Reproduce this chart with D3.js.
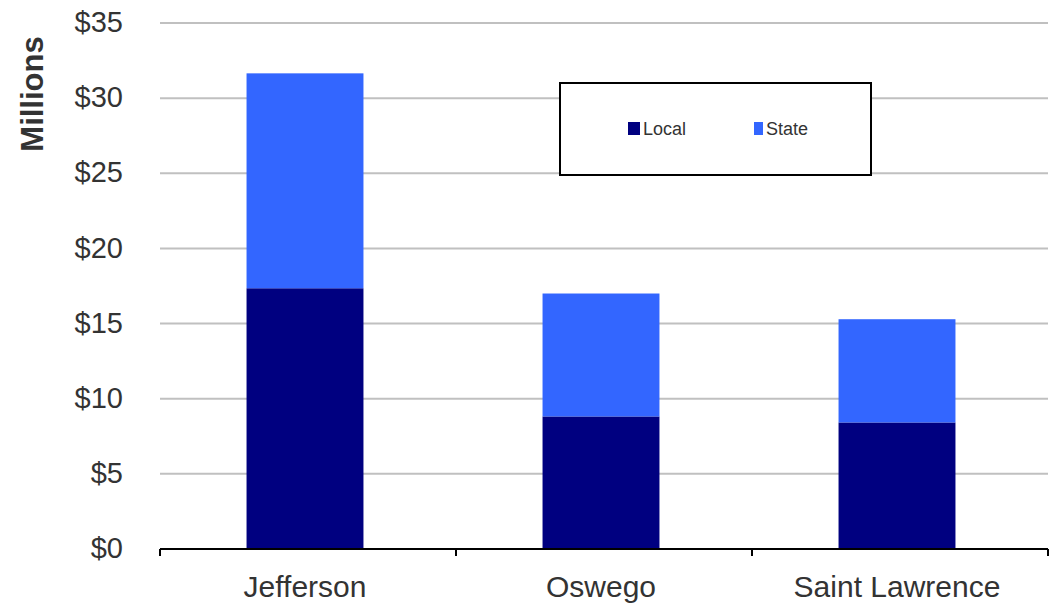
<!DOCTYPE html>
<html><head><meta charset="utf-8">
<script src="https://cdn.jsdelivr.net/npm/d3@7"></script>
<style>body{margin:0;background:#fff}svg{display:block}text{font-family:"Liberation Sans",Arial,sans-serif}</style>
</head><body><svg id="c" width="1049" height="605"></svg>
<script>
const categories = ["Jefferson", "Oswego", "Saint Lawrence"];
const localValues = [17.35, 8.82, 8.42];
const stateValues = [14.3, 8.18, 6.87];
const seriesNames = ["Local", "State"];
const seriesColors = ["#000080", "#3366FF"];
const yTicks = [0, 5, 10, 15, 20, 25, 30, 35];

(function () {
const svg = d3.select("#c");
const pL = 160, pR = 1048, pT = 23, pB = 549;
const x = d3.scaleBand().domain(categories).range([pL - 3, pR - 3]).paddingInner(0.605).paddingOuter(0.3025);
const y = d3.scaleLinear().domain([0, 35]).range([pB, pT]);

// gridlines
svg.append("g").selectAll("line").data(yTicks.filter(d => d > 0)).join("line")
  .attr("x1", pL).attr("x2", pR).attr("y1", d => y(d)).attr("y2", d => y(d))
  .attr("stroke", "#c0c0c0").attr("stroke-width", 2);

// y labels
const yAxis = d3.axisLeft(y).tickValues(yTicks).tickSize(0).tickPadding(37).tickFormat(d => "$" + d);
const gy = svg.append("g").attr("transform", `translate(${pL},0)`).call(yAxis);
gy.select(".domain").remove();
gy.selectAll("text").attr("font-size", 29).attr("fill", "#333").attr("font-family", "Liberation Sans, Arial, sans-serif").attr("dy", "0.3em");

// stacked bars
const rows = categories.map((c, i) => ({cat: c, Local: localValues[i], State: stateValues[i]}));
const stack = d3.stack().keys(seriesNames)(rows);
svg.append("g").selectAll("g").data(stack).join("g")
  .attr("fill", (d, i) => seriesColors[i])
  .selectAll("rect").data(d => d).join("rect")
  .attr("x", d => x(d.data.cat)).attr("width", x.bandwidth())
  .attr("y", d => y(d[1])).attr("height", d => y(d[0]) - y(d[1]));

// x axis line and ticks
const step = (pR - pL) / categories.length;
const gx = svg.append("g");
gx.append("line").attr("x1", pL).attr("x2", pR).attr("y1", pB).attr("y2", pB).attr("stroke", "#000").attr("stroke-width", 2);
gx.selectAll("line.t").data(d3.range(categories.length + 1)).join("line").attr("class", "t")
  .attr("x1", i => pL + i * step).attr("x2", i => pL + i * step)
  .attr("y1", pB).attr("y2", pB + 7).attr("stroke", "#000").attr("stroke-width", 2);
gx.selectAll("text").data(categories).join("text")
  .attr("x", d => x(d) + x.bandwidth() / 2).attr("y", 597)
  .attr("text-anchor", "middle").attr("font-size", 30).attr("fill", "#333").text(d => d);

// y title
svg.append("text").attr("transform", "translate(43,94) rotate(-90)")
  .attr("text-anchor", "middle").attr("font-size", 31).attr("font-weight", "bold").attr("fill", "#333").text("Millions");

// legend
const lg = svg.append("g");
lg.append("rect").attr("x", 560).attr("y", 83).attr("width", 311).attr("height", 92)
  .attr("fill", "#fff").attr("stroke", "#000").attr("stroke-width", 2);
const legX = [628, 754], swW = [12, 9];
seriesNames.forEach((n, i) => {
  lg.append("rect").attr("x", legX[i]).attr("y", 122).attr("width", swW[i]).attr("height", 13).attr("fill", seriesColors[i]);
  lg.append("text").attr("x", legX[i] + swW[i] + 3).attr("y", 135).attr("font-size", 18).attr("fill", "#333").text(n);
});
})();
</script></body></html>
